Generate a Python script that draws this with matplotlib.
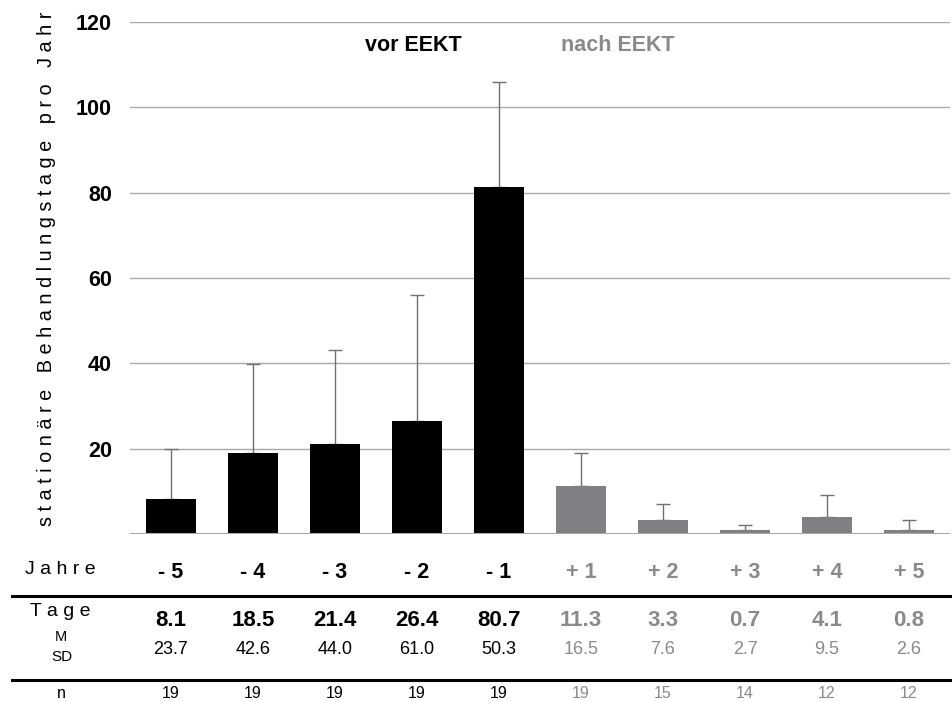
import matplotlib
matplotlib.use("Agg")
import matplotlib.pyplot as plt
from matplotlib.lines import Line2D
from matplotlib.transforms import blended_transform_factory

plt.rcParams['font.family'] = ['Liberation Sans', 'DejaVu Sans']

# ---- data ----
years = ["- 5", "- 4", "- 3", "- 2", "- 1", "+ 1", "+ 2", "+ 3", "+ 4", "+ 5"]
bar_values = [8.3, 19.0, 21.0, 26.4, 81.3, 11.3, 3.2, 1.0, 4.1, 1.0]
error_tops = [20.0, 39.9, 43.2, 56.1, 105.9, 19.0, 7.0, 2.0, 9.1, 3.2]
mean_labels = ["8.1", "18.5", "21.4", "26.4", "80.7", "11.3", "3.3", "0.7", "4.1", "0.8"]
sd_labels = ["23.7", "42.6", "44.0", "61.0", "50.3", "16.5", "7.6", "2.7", "9.5", "2.6"]
n_labels = ["19", "19", "19", "19", "19", "19", "15", "14", "12", "12"]
is_before = [True] * 5 + [False] * 5
yticks = [20, 40, 60, 80, 100, 120]

BLACK = "#000000"
GRAY_BAR = "#808084"
GRAY_TXT = "#8a8a8c"

W, H = 953, 702
fig = plt.figure(figsize=(W / 100, H / 100), dpi=100)
ax = fig.add_axes([130 / W, 1 - 534 / H, 820 / W, 512 / H])

x = list(range(len(years)))
colors = [BLACK if b else GRAY_BAR for b in is_before]
ax.bar(x, bar_values, width=0.61, color=colors, zorder=3)
err = [t - v for t, v in zip(error_tops, bar_values)]
ax.errorbar(x, bar_values, yerr=[[0] * len(x), err], fmt='none',
            ecolor='#707070', elinewidth=1.0, capsize=5, capthick=1.0, zorder=2)

ax.set_xlim(-0.5, len(years) - 0.5)
ax.set_ylim(0, 120)
ax.set_yticks(yticks)
ax.set_yticklabels([str(t) for t in yticks], fontsize=15.5, fontweight='bold')
ax.tick_params(axis='y', length=0, pad=13)
ax.yaxis.grid(True, color='#a8a8a8', linewidth=1.0)
ax.axhline(0, color='#a8a8a8', linewidth=1.5, zorder=4)
ax.set_axisbelow(True)
for s in ax.spines.values():
    s.set_visible(False)

ax.set_xticks(x)
ax.set_xticklabels(years, fontsize=15.5, fontweight='bold')
ax.tick_params(axis='x', length=0, pad=20)
for lab, b in zip(ax.get_xticklabels(), is_before):
    lab.set_color(BLACK if b else GRAY_TXT)

# y label (letter-spaced as in reference)
ylabel = "s t a t i o n ä r e   B e h a n d l u n g s t a g e   p r o   J a h r"
fig.text(47 / W, 1 - 269 / H, ylabel, rotation=90, fontsize=14.3,
         ha='center', va='center')

# header texts
ax.text(2.95, 114.5, "vor EEKT", fontsize=15.5, fontweight='bold', color=BLACK,
        ha='center', va='center')
ax.text(5.45, 114.5, "nach EEKT", fontsize=15.5, fontweight='bold', color=GRAY_TXT,
        ha='center', va='center')

# table below
tr = blended_transform_factory(ax.transData, fig.transFigure)
def fy(px):
    return 1 - px / H

fig.text(25 / W, fy(570), "J a h r e", fontsize=14, ha='left', va='center')
fig.text(30 / W, fy(612), "T a g e", fontsize=14, ha='left', va='center')
fig.text(61 / W, fy(637), "M", fontsize=10.5, ha='center', va='center')
fig.text(62 / W, fy(657), "SD", fontsize=11, ha='center', va='center')
fig.text(61 / W, fy(694), "n", fontsize=11.5, ha='center', va='center')

for xi, m, sd, n, b in zip(x, mean_labels, sd_labels, n_labels, is_before):
    c = BLACK if b else GRAY_TXT
    ax.text(xi, fy(620), m, transform=tr, fontsize=16, fontweight='bold',
            color=c, ha='center', va='center')
    ax.text(xi, fy(650), sd, transform=tr, fontsize=13, color=c,
            ha='center', va='center')
    ax.text(xi, fy(694), n, transform=tr, fontsize=11.5, color=c,
            ha='center', va='center')

for ypx in (596, 680):
    fig.add_artist(Line2D([12 / W, 1.0], [fy(ypx), fy(ypx)], color='black',
                          linewidth=2.2, transform=fig.transFigure))

fig.savefig("out.png", dpi=100)
